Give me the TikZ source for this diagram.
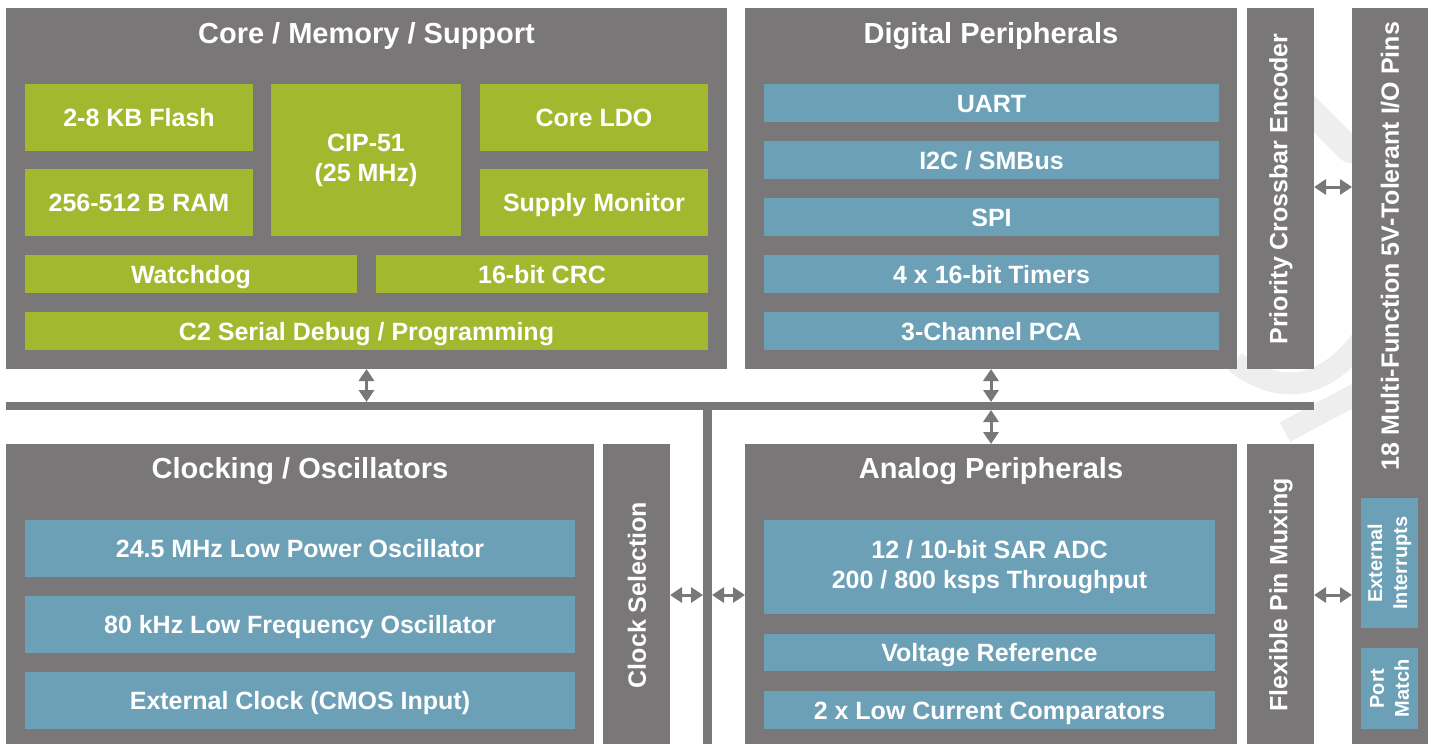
\documentclass[tikz,border=0pt]{standalone}
\usepackage{fontspec}
\setmainfont{Liberation Sans}
\usetikzlibrary{arrows.meta}
\definecolor{boxgray}{RGB}{122,119,120}
\definecolor{cgreen}{RGB}{162,185,47}
\definecolor{cblue}{RGB}{108,160,183}
\definecolor{wmark}{RGB}{238,238,238}
\tikzset{
  x=1pt, y=-1pt,
  blk/.style={inner sep=0pt, outer sep=0pt, text=white,
    font=\bfseries\fontsize{25}{30}\selectfont, align=center},
  graybox/.style={blk, fill=boxgray},
  greenbox/.style={blk, fill=cgreen, text height=18pt, text depth=0pt},
  bluebox/.style={blk, fill=cblue, text height=18pt, text depth=0pt},
  greenboxm/.style={blk, fill=cgreen},
  blueboxm/.style={blk, fill=cblue},
  title/.style={text=white, font=\bfseries\fontsize{29}{34}\selectfont, inner sep=0pt, anchor=base},
  vtext/.style={text=white, font=\bfseries\fontsize{25}{30}\selectfont, inner sep=0pt, rotate=90, align=center},
  vsmall/.style={text=white, font=\bfseries\fontsize{20}{25}\selectfont, inner sep=0pt, rotate=90, align=center},
  dbl/.style={draw=boxgray, line width=3pt,
    {Triangle[width=15pt,length=12pt]}-{Triangle[width=15pt,length=12pt]}},
  busbar/.style={fill=boxgray, inner sep=0pt, outer sep=0pt}
}
% \mkbox{style}{name}{x1}{y1}{x2}{y2}{text}
\newcommand\mkbox[7]{\node[#1, minimum width={(#5-#3)*1pt}, minimum height={(#6-#4)*1pt}] (#2) at ({(#3+#5)/2},{(#4+#6)/2}) {#7};}
\begin{document}
\begin{tikzpicture}
\useasboundingbox[fill=white] (0,0) rectangle (1433,744);
% faint background watermark
\draw[wmark, line width=26pt, line cap=round] (1295,95) -- (1350,150);
\draw[wmark, line width=22pt] (1235,362) .. controls (1285,400) and (1330,385) .. (1365,335);
\draw[wmark, line width=22pt] (1285,432) -- (1360,392);
% bus
\mkbox{busbar}{hbus}{6}{402}{1314}{410}{}
\mkbox{busbar}{vbus}{703}{402}{712}{744}{}
% core / memory / support
\mkbox{graybox}{core}{6}{8}{727}{369}{}
\node[title] (coret) at (366.5,43.5) {Core / Memory / Support};
\mkbox{greenbox}{flash}{25}{84}{253}{151}{2-8 KB Flash}
\mkbox{greenbox}{ram}{25}{169}{253}{236}{256-512 B RAM}
\mkbox{greenboxm}{cip}{271}{84}{461}{236}{CIP-51\\(25 MHz)}
\mkbox{greenbox}{ldo}{480}{84}{708}{151}{Core LDO}
\mkbox{greenbox}{supmon}{480}{169}{708}{236}{Supply Monitor}
\mkbox{greenbox}{wdog}{25}{255}{357}{293}{Watchdog}
\mkbox{greenbox}{crc}{376}{255}{708}{293}{16-bit CRC}
\mkbox{greenbox}{c2}{25}{312}{708}{350}{C2 Serial Debug / Programming}
% digital peripherals
\mkbox{graybox}{dig}{745}{8}{1237}{369}{}
\node[title] (digt) at (991,43.5) {Digital Peripherals};
\mkbox{bluebox}{uart}{764}{84}{1219}{122}{UART}
\mkbox{bluebox}{i2c}{764}{141}{1219}{179}{I2C / SMBus}
\mkbox{bluebox}{spi}{764}{198}{1219}{236}{SPI}
\mkbox{bluebox}{timers}{764}{255}{1219}{293}{4 x 16-bit Timers}
\mkbox{bluebox}{pca}{764}{312}{1219}{350}{3-Channel PCA}
% crossbar
\mkbox{graybox}{xbar}{1247}{8}{1314}{369}{}
\node[vtext] (xbart) at (1281,189) {Priority Crossbar Encoder};
% pins
\mkbox{graybox}{pins}{1352}{8}{1428}{744}{}
\node[vtext] (pinst) at (1390,246) {18 Multi-Function 5V-Tolerant I/O Pins};
\mkbox{graybox}{extint}{1361}{498}{1418}{628}{}
\node[fill=cblue, inner sep=0pt, minimum width=57pt, minimum height=130pt] (extintb) at (extint) {};
\node[vsmall] (extintt) at (1389.5,563) {External\\Interrupts};
\node[fill=cblue, inner sep=0pt, minimum width=57pt, minimum height=81pt] (portm) at (1389.5,688.5) {};
\node[vsmall] (portmt) at (portm) {Port\\Match};
% clocking
\mkbox{graybox}{clk}{6}{444}{594}{744}{}
\node[title] (clkt) at (300,478.5) {Clocking / Oscillators};
\mkbox{bluebox}{osc1}{25}{520}{575}{577}{24.5 MHz Low Power Oscillator}
\mkbox{bluebox}{osc2}{25}{596}{575}{653}{80 kHz Low Frequency Oscillator}
\mkbox{bluebox}{extclk}{25}{672}{575}{729}{External Clock (CMOS Input)}
% clock selection
\mkbox{graybox}{clksel}{603}{444}{670}{744}{}
\node[vtext] (clkselt) at (637,595) {Clock Selection};
% analog
\mkbox{graybox}{ana}{745}{444}{1237}{744}{}
\node[title] (anat) at (991,478.5) {Analog Peripherals};
\mkbox{blueboxm}{adc}{764}{520}{1215}{614}{12 / 10-bit SAR ADC\\200 / 800 ksps Throughput}
\mkbox{bluebox}{vref}{764}{634}{1215}{671}{Voltage Reference}
\mkbox{bluebox}{comp}{764}{691}{1215}{729}{2 x Low Current Comparators}
% flexible pin muxing
\mkbox{graybox}{mux}{1247}{444}{1314}{744}{}
\node[vtext] (muxt) at (1281,595) {Flexible Pin Muxing};
% arrows
\draw[dbl] (core.south) -- (core.south |- hbus.north);
\draw[dbl] (dig.south) -- (dig.south |- hbus.north);
\draw[dbl] (ana.north) -- (ana.north |- hbus.south);
\draw[dbl] (xbar.east |- 0,187) -- (pins.west |- 0,187);
\draw[dbl] (clksel.east |- 0,595) -- (vbus.west |- 0,595);
\draw[dbl] (vbus.east |- 0,595) -- (ana.west |- 0,595);
\draw[dbl] (mux.east |- 0,595) -- (pins.west |- 0,595);
\end{tikzpicture}
\end{document}
